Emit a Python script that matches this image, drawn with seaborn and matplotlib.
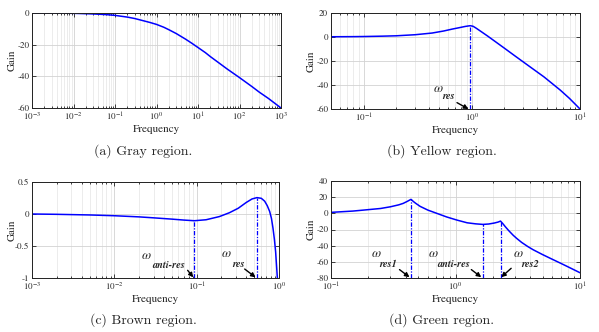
import matplotlib
matplotlib.use("Agg")
import matplotlib.pyplot as plt
import seaborn as sns
from matplotlib.ticker import LogLocator, NullFormatter, FixedLocator

# ---------------- data ----------------
freq_a = [0.001, 0.003, 0.01, 0.03, 0.06, 0.1, 0.2, 0.3, 0.5, 0.7, 1, 1.5, 2, 3, 5, 7, 10, 15, 20, 30, 50, 100, 200, 300, 500, 1000]
gain_a = [0, -0.05, -0.2, -0.6, -1.0, -1.5, -2.6, -3.5, -5.0, -6.0, -7.2, -9.0, -10.6, -13, -16.5, -19, -21.8, -25, -27.6, -31, -35.3, -40.8, -46.5, -50, -54.0, -60]

freq_b = [0.05, 0.08, 0.1, 0.15, 0.2, 0.3, 0.43, 0.55, 0.66, 0.75, 0.87, 0.93, 0.97, 1.03, 1.1, 1.23, 1.4, 1.63, 2.0, 2.5, 3.28, 4.64, 6.58, 8.0, 10]
gain_b = [0.2, 0.3, 0.4, 0.7, 1.0, 1.9, 3.3, 5.0, 6.6, 7.6, 8.8, 9.2, 9.4, 8.9, 7.3, 4.3, 0.8, -3.5, -9.3, -15.7, -23.4, -33.2, -44.3, -51.2, -60]

freq_c = [0.001, 0.002, 0.005, 0.01, 0.02, 0.03, 0.05, 0.07, 0.094, 0.13, 0.189, 0.25, 0.32, 0.4, 0.47, 0.54, 0.61, 0.67, 0.72, 0.77, 0.81, 0.845, 0.88, 0.91, 0.955]
gain_c = [0, -0.005, -0.015, -0.027, -0.045, -0.06, -0.08, -0.095, -0.105, -0.09, -0.04, 0.02, 0.09, 0.18, 0.235, 0.256, 0.245, 0.2, 0.13, 0.04, -0.07, -0.22, -0.4, -0.59, -1.0]

freq_d = [0.1, 0.15, 0.182, 0.25, 0.3, 0.35, 0.38, 0.41, 0.439, 0.46, 0.48, 0.52, 0.6, 0.71, 0.85, 1.03, 1.24, 1.45, 1.66, 1.85, 2.05, 2.2, 2.3, 2.4, 2.52, 2.68, 2.9, 3.1, 3.4, 3.8, 4.2, 5.0, 5.8, 7.0, 7.87, 10]
gain_d = [1.2, 2.8, 4.0, 6.0, 8.1, 10.5, 12.3, 14.8, 17.3, 14.5, 12.3, 8.6, 4.0, -0.1, -4.5, -8.4, -11.7, -13.0, -13.7, -13.2, -12.0, -10.8, -9.6, -12.8, -16.8, -21.5, -27.0, -31.0, -36.0, -41.0, -45.0, -51.0, -55.8, -61.8, -65.6, -73.5]

res_freq_b = [0.97]
res_gain_b = [9.4]
res_freq_c = [0.094, 0.54]
res_gain_c = [-0.105, 0.256]
res_freq_d = [0.439, 1.66, 2.30]
res_gain_d = [17.3, -13.7, -9.6]

labels_b = ["res"]
labels_c = ["anti-res", "res"]
labels_d = ["res1", "anti-res", "res2"]

captions = ["(a) Gray region.", "(b) Yellow region.", "(c) Brown region.", "(d) Green region."]

yticks_a = [-60, -40, -20, 0]
yticks_b = [-60, -40, -20, 0, 20]
yticks_c = [-1, -0.5, 0, 0.5]
yticklabels_c = ["-1", "-0.5", "0", "0.5"]
yticks_d = [-80, -60, -40, -20, 0, 20, 40]

# ---------------- style ----------------
sns.set_style("ticks")
plt.rcParams["font.family"] = ["STIXGeneral", "DejaVu Serif"]
plt.rcParams["mathtext.fontset"] = "stix"
plt.rcParams["axes.unicode_minus"] = False

W, H = 599, 332
fig = plt.figure(figsize=(W / 100, H / 100), dpi=100)

def px_axes(x0, y0, x1, y1):
    return fig.add_axes([x0 / W, 1 - y1 / H, (x1 - x0) / W, (y1 - y0) / H])

ax_a = px_axes(32, 13, 281, 108)
ax_b = px_axes(331, 13, 580, 109)
ax_c = px_axes(32, 182, 279, 278)
ax_d = px_axes(331, 181, 580, 278)

BLUE = "#0000ff"

def style(ax, xlim, yticks, ylim):
    ax.set_xscale("log")
    ax.set_xlim(*xlim)
    ax.set_ylim(*ylim)
    ax.yaxis.set_major_locator(FixedLocator(yticks))
    ax.xaxis.set_major_locator(LogLocator(base=10, numticks=20))
    ax.xaxis.set_minor_locator(LogLocator(base=10, subs=range(2, 10), numticks=100))
    ax.xaxis.set_minor_formatter(NullFormatter())
    ax.grid(True, which="major", color="#d2d2d2", lw=0.6)
    ax.grid(True, which="minor", axis="x", color="#e4e4e4", lw=0.5)
    ax.set_axisbelow(True)
    ax.tick_params(which="both", direction="in", top=True, right=True, labelsize=6.5, pad=2, width=0.6, color="#222222")
    ax.tick_params(which="major", length=3)
    ax.tick_params(which="minor", length=1.6)
    for s in ax.spines.values():
        s.set_linewidth(0.7)
        s.set_color("#222222")
    ax.set_xlabel("Frequency", fontsize=8, labelpad=1.2)
    ax.set_ylabel("Gain", fontsize=8)
    ax.yaxis.set_label_coords(-15 / 249, 0.5)

def curve(ax, f, g):
    sns.lineplot(x=f, y=g, ax=ax, color=BLUE, lw=1.1, sort=False, estimator=None)

def markers(ax, rf, rg, ymin):
    ax.vlines(rf, ymin, rg, colors=BLUE, linestyles=(0, (3.5, 1.2, 1, 1.2)), lw=0.9)

def omega(ax, wx, wy, sx, sy, sub, tail, head):
    ax.text(wx, wy, "ω", fontsize=9.5, style="italic", ha="center", va="center")
    ax.text(sx, sy, sub, fontsize=7.5, style="italic", weight="bold", ha="center", va="center")
    ax.annotate("", xy=head, xytext=tail,
                arrowprops=dict(arrowstyle="-|>", color="k", lw=1.0, mutation_scale=6.5, shrinkA=0, shrinkB=0))

# (a)
curve(ax_a, freq_a, gain_a)
style(ax_a, (1e-3, 1e3), yticks_a, (-60, 0))

# (b)
curve(ax_b, freq_b, gain_b)
style(ax_b, (0.05, 10), yticks_b, (-60, 20))
markers(ax_b, res_freq_b, res_gain_b, -60)
omega(ax_b, 0.49, -43.0, 0.61, -49.5, labels_b[0], (0.73, -54.7), (0.93, -60))

# (c)
curve(ax_c, freq_c, gain_c)
style(ax_c, (1e-3, 1), yticks_c, (-1, 0.5))
ax_c.set_yticklabels(yticklabels_c)
markers(ax_c, res_freq_c, res_gain_c, -1)
omega(ax_c, 0.0243, -0.655, 0.0453, -0.80, labels_c[0], (0.0777, -0.88), (0.091, -0.99))
omega(ax_c, 0.229, -0.62, 0.32, -0.78, labels_c[1], (0.383, -0.86), (0.52, -0.99))

# (d)
curve(ax_d, freq_d, gain_d)
style(ax_d, (0.1, 10), yticks_d, (-80, 40))
markers(ax_d, res_freq_d, res_gain_d, -80)
omega(ax_d, 0.229, -50, 0.286, -63.4, labels_d[0], (0.355, -69.6), (0.427, -79))
omega(ax_d, 0.658, -50, 0.96, -63.4, labels_d[1], (1.34, -69.6), (1.61, -79))
omega(ax_d, 3.17, -50, 3.96, -63, labels_d[2], (2.8, -68), (2.33, -79))

# captions
for cx, cy, txt in [(143, 151, captions[0]), (442, 151, captions[1]),
                    (143, 320, captions[2]), (442, 320, captions[3])]:
    fig.text(cx / W, 1 - cy / H, txt, fontsize=10, family="cmr10", ha="center", va="center")

fig.savefig("out.png", dpi=100, facecolor="white")
